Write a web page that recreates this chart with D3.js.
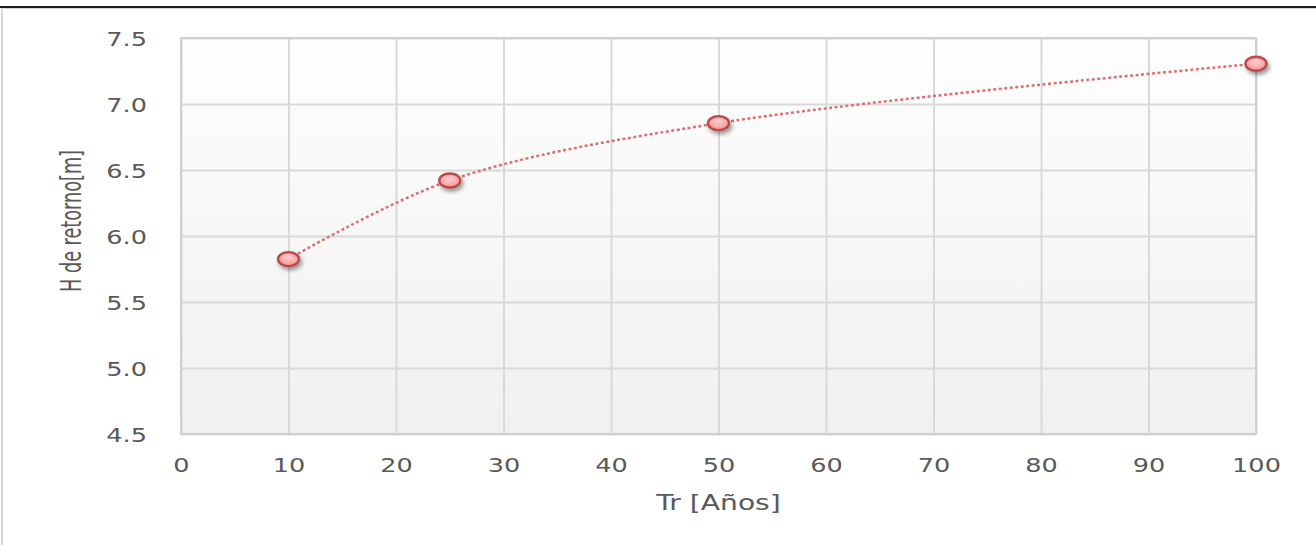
<!DOCTYPE html>
<html>
<head>
<meta charset="utf-8">
<script src="https://cdn.jsdelivr.net/npm/d3@7"></script>
<style>
  body { margin: 0; background: #fff; }
  svg { display: block; }
  .tick text { font-family: "DejaVu Sans", sans-serif; font-size: 20px; fill: #595959; }
  .tick line { stroke: #d9d9d9; stroke-width: 2; }
</style>
</head>
<body>
<svg id="chart" width="1316" height="545"></svg>
<script>
// data
const trYears = [10, 25, 50, 100];
const hRetorno = [5.825, 6.42, 6.855, 7.305];
const xTicks = [0, 10, 20, 30, 40, 50, 60, 70, 80, 90, 100];
const yTicks = [4.5, 5.0, 5.5, 6.0, 6.5, 7.0, 7.5];
const xTitle = "Tr [Años]";
const yTitle = "H de retorno[m]";

const svg = d3.select("#chart");
const stretch = 1.28; // the picture is widened horizontally
const margin = { left: 181, top: 38, right: 60, bottom: 111 };
const width = 1316 - margin.left - margin.right;
const height = 545 - margin.top - margin.bottom;

const defs = svg.append("defs");
const bg = defs.append("linearGradient").attr("id", "plotBg")
  .attr("x1", 0).attr("y1", 0).attr("x2", 0).attr("y2", 1);
bg.append("stop").attr("offset", "0%").attr("stop-color", "#fefefe");
bg.append("stop").attr("offset", "100%").attr("stop-color", "#f0f0f0");

const mk = defs.append("radialGradient").attr("id", "markerFill")
  .attr("cx", "50%").attr("cy", "40%").attr("r", "60%");
mk.append("stop").attr("offset", "0%").attr("stop-color", "#ffcfcf");
mk.append("stop").attr("offset", "100%").attr("stop-color", "#f49292");

const shadow = defs.append("filter").attr("id", "shadow")
  .attr("x", "-50%").attr("y", "-50%").attr("width", "200%").attr("height", "200%");
shadow.append("feDropShadow").attr("dx", 2).attr("dy", 3)
  .attr("stdDeviation", 2.2).attr("flood-color", "#000").attr("flood-opacity", 0.4);

// outer frame
svg.append("rect").attr("x", 2).attr("y", 8).attr("width", 1330).attr("height", 560)
  .attr("fill", "#fff").attr("stroke", "#d9d9d9").attr("stroke-width", 2);
svg.append("line").attr("x1", 0).attr("x2", 1316).attr("y1", 7).attr("y2", 7)
  .attr("stroke", "#1e1e1e").attr("stroke-width", 2);

const g = svg.append("g").attr("transform", `translate(${margin.left},${margin.top})`);

const x = d3.scaleLinear().domain([0, 100]).range([0, width]);
const y = d3.scaleLinear().domain([4.5, 7.5]).range([height, 0]);

g.append("rect").attr("width", width).attr("height", height).attr("fill", "url(#plotBg)");

// Y axis + horizontal grid
const yAxis = g.append("g")
  .call(d3.axisLeft(y).tickValues(yTicks).tickSize(-width).tickFormat(d3.format(".1f")));
yAxis.select(".domain").remove();
yAxis.selectAll("text")
  .attr("x", -34 / stretch)
  .attr("dy", "0.36em")
  .attr("transform", `scale(${stretch},1)`);

// X axis + vertical grid
const xAxis = g.append("g").attr("transform", `translate(0,${height})`)
  .call(d3.axisBottom(x).tickValues(xTicks).tickSize(-height));
xAxis.select(".domain").remove();
xAxis.selectAll("text")
  .attr("y", 31)
  .attr("dy", "0.36em")
  .attr("transform", `scale(${stretch},1)`);

// plot border
g.append("rect").attr("width", width).attr("height", height)
  .attr("fill", "none").attr("stroke", "#d0d0d0").attr("stroke-width", 2);

// smoothed dotted line
const pts = trYears.map((t, i) => [t, hRetorno[i]]);
const line = d3.line()
  .x(d => x(d[0])).y(d => y(d[1]))
  .curve(d3.curveCatmullRom.alpha(0.5));
g.append("path").datum(pts)
  .attr("d", line)
  .attr("fill", "none")
  .attr("stroke", "#d87373")
  .attr("stroke-width", 2.5)
  .attr("stroke-dasharray", "3 2.5");

// markers
g.selectAll("ellipse.pt").data(pts).enter()
  .append("ellipse").attr("class", "pt")
  .attr("cx", d => x(d[0])).attr("cy", d => y(d[1]))
  .attr("rx", 10.5).attr("ry", 7)
  .attr("fill", "url(#markerFill)")
  .attr("stroke", "#b94a48").attr("stroke-width", 2.4)
  .attr("filter", "url(#shadow)");

// axis titles
svg.append("text")
  .attr("transform", `translate(${margin.left + width / 2},${502}) scale(${stretch},1)`)
  .attr("text-anchor", "middle")
  .attr("dy", "0.35em")
  .style("font-family", "'DejaVu Sans', sans-serif")
  .style("font-size", "22px")
  .style("fill", "#595959")
  .text(xTitle);

svg.append("text")
  .attr("transform", `translate(81,221) scale(${stretch},1) rotate(-90)`)
  .attr("text-anchor", "middle")
  .attr("textLength", 142)
  .attr("lengthAdjust", "spacingAndGlyphs")
  .style("font-family", "'Liberation Sans Narrow', 'DejaVu Sans Condensed', sans-serif")
  .style("font-size", "22px")
  .style("fill", "#595959")
  .text(yTitle);
</script>
</body>
</html>
